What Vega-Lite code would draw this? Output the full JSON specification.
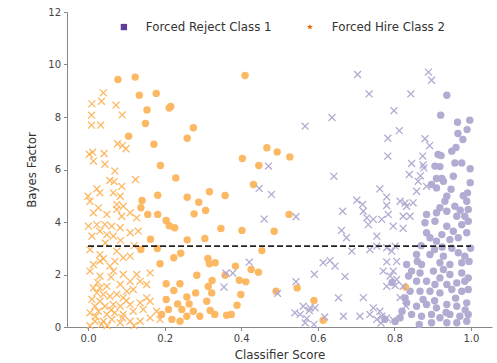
{
"$schema":"https://vega.github.io/schema/vega-lite/v6.json",
"autosize":{"type":"none"},
"padding":{"left":67,"top":12,"right":5,"bottom":36},
"width":425,"height":315,
"config":{"view":{"stroke":null},"font":"DejaVu Sans",
"axis":{"grid":false,"domainColor":"#888","tickColor":"#888","tickSize":3.5,"labelColor":"#444","labelFont":"DejaVu Sans","labelFontSize":10,"titleFont":"DejaVu Sans","titleFontSize":11.8,"titleFontWeight":"normal","titleColor":"#333","labelPadding":3}},
"resolve":{"scale":{"color":"independent","shape":"independent"},"legend":{"color":"independent"}},
"datasets":{
"classes":[{"cls":"Forced Reject Class 1"},{"cls":"Forced Hire Class 2"}],
"pts":[
{"score":0.937,"bf":8.83,"cls":"Forced Reject Class 1","marker":"o"},{"score":0.921,"bf":8.07,"cls":"Forced Reject Class 1","marker":"o"},{"score":0.965,"bf":7.80,"cls":"Forced Reject Class 1","marker":"o"},{"score":0.997,"bf":7.88,"cls":"Forced Reject Class 1","marker":"o"},{"score":0.966,"bf":7.37,"cls":"Forced Reject Class 1","marker":"o"},{"score":0.979,"bf":7.14,"cls":"Forced Reject Class 1","marker":"o"},{"score":0.990,"bf":7.52,"cls":"Forced Reject Class 1","marker":"o"},{"score":0.961,"bf":6.84,"cls":"Forced Reject Class 1","marker":"o"},{"score":0.950,"bf":6.70,"cls":"Forced Reject Class 1","marker":"o"},{"score":0.914,"bf":6.57,"cls":"Forced Reject Class 1","marker":"o"},{"score":0.922,"bf":6.53,"cls":"Forced Reject Class 1","marker":"o"},{"score":0.906,"bf":6.13,"cls":"Forced Reject Class 1","marker":"o"},{"score":0.919,"bf":6.11,"cls":"Forced Reject Class 1","marker":"o"},{"score":0.958,"bf":6.25,"cls":"Forced Reject Class 1","marker":"o"},{"score":0.976,"bf":6.25,"cls":"Forced Reject Class 1","marker":"o"},{"score":0.998,"bf":6.03,"cls":"Forced Reject Class 1","marker":"o"},{"score":0.954,"bf":5.74,"cls":"Forced Reject Class 1","marker":"o"},{"score":0.910,"bf":5.66,"cls":"Forced Reject Class 1","marker":"o"},{"score":0.924,"bf":5.66,"cls":"Forced Reject Class 1","marker":"o"},{"score":0.897,"bf":5.43,"cls":"Forced Reject Class 1","marker":"o"},{"score":0.928,"bf":5.55,"cls":"Forced Reject Class 1","marker":"o"},{"score":0.910,"bf":5.30,"cls":"Forced Reject Class 1","marker":"o"},{"score":0.937,"bf":4.98,"cls":"Forced Reject Class 1","marker":"o"},{"score":0.932,"bf":4.79,"cls":"Forced Reject Class 1","marker":"o"},{"score":0.991,"bf":5.11,"cls":"Forced Reject Class 1","marker":"o"},{"score":0.989,"bf":4.79,"cls":"Forced Reject Class 1","marker":"o"},{"score":0.993,"bf":4.48,"cls":"Forced Reject Class 1","marker":"o"},{"score":0.958,"bf":4.60,"cls":"Forced Reject Class 1","marker":"o"},{"score":0.919,"bf":4.54,"cls":"Forced Reject Class 1","marker":"o"},{"score":0.884,"bf":4.29,"cls":"Forced Reject Class 1","marker":"o"},{"score":0.910,"bf":4.35,"cls":"Forced Reject Class 1","marker":"o"},{"score":0.937,"bf":4.41,"cls":"Forced Reject Class 1","marker":"o"},{"score":0.963,"bf":4.22,"cls":"Forced Reject Class 1","marker":"o"},{"score":0.984,"bf":4.22,"cls":"Forced Reject Class 1","marker":"o"},{"score":0.880,"bf":3.97,"cls":"Forced Reject Class 1","marker":"o"},{"score":0.906,"bf":4.03,"cls":"Forced Reject Class 1","marker":"o"},{"score":0.937,"bf":3.84,"cls":"Forced Reject Class 1","marker":"o"},{"score":0.884,"bf":3.59,"cls":"Forced Reject Class 1","marker":"o"},{"score":0.924,"bf":3.52,"cls":"Forced Reject Class 1","marker":"o"},{"score":0.954,"bf":3.65,"cls":"Forced Reject Class 1","marker":"o"},{"score":0.976,"bf":3.90,"cls":"Forced Reject Class 1","marker":"o"},{"score":0.993,"bf":4.03,"cls":"Forced Reject Class 1","marker":"o"},{"score":0.989,"bf":3.59,"cls":"Forced Reject Class 1","marker":"o"},{"score":0.967,"bf":3.40,"cls":"Forced Reject Class 1","marker":"o"},{"score":0.945,"bf":3.33,"cls":"Forced Reject Class 1","marker":"o"},{"score":0.910,"bf":3.27,"cls":"Forced Reject Class 1","marker":"o"},{"score":0.893,"bf":3.40,"cls":"Forced Reject Class 1","marker":"o"},{"score":0.858,"bf":2.76,"cls":"Forced Reject Class 1","marker":"o"},{"score":0.893,"bf":2.76,"cls":"Forced Reject Class 1","marker":"o"},{"score":0.928,"bf":2.70,"cls":"Forced Reject Class 1","marker":"o"},{"score":0.967,"bf":2.83,"cls":"Forced Reject Class 1","marker":"o"},{"score":0.984,"bf":2.70,"cls":"Forced Reject Class 1","marker":"o"},{"score":0.919,"bf":2.45,"cls":"Forced Reject Class 1","marker":"o"},{"score":0.945,"bf":2.38,"cls":"Forced Reject Class 1","marker":"o"},{"score":0.976,"bf":2.45,"cls":"Forced Reject Class 1","marker":"o"},{"score":0.871,"bf":2.38,"cls":"Forced Reject Class 1","marker":"o"},{"score":0.845,"bf":2.13,"cls":"Forced Reject Class 1","marker":"o"},{"score":0.867,"bf":2.06,"cls":"Forced Reject Class 1","marker":"o"},{"score":0.902,"bf":2.13,"cls":"Forced Reject Class 1","marker":"o"},{"score":0.928,"bf":2.19,"cls":"Forced Reject Class 1","marker":"o"},{"score":0.945,"bf":2.00,"cls":"Forced Reject Class 1","marker":"o"},{"score":0.976,"bf":2.06,"cls":"Forced Reject Class 1","marker":"o"},{"score":0.993,"bf":1.87,"cls":"Forced Reject Class 1","marker":"o"},{"score":0.832,"bf":2.38,"cls":"Forced Reject Class 1","marker":"o"},{"score":0.837,"bf":1.94,"cls":"Forced Reject Class 1","marker":"o"},{"score":0.858,"bf":1.74,"cls":"Forced Reject Class 1","marker":"o"},{"score":0.884,"bf":1.74,"cls":"Forced Reject Class 1","marker":"o"},{"score":0.906,"bf":1.62,"cls":"Forced Reject Class 1","marker":"o"},{"score":0.919,"bf":1.87,"cls":"Forced Reject Class 1","marker":"o"},{"score":0.937,"bf":1.62,"cls":"Forced Reject Class 1","marker":"o"},{"score":0.963,"bf":1.68,"cls":"Forced Reject Class 1","marker":"o"},{"score":0.984,"bf":1.74,"cls":"Forced Reject Class 1","marker":"o"},{"score":0.841,"bf":1.36,"cls":"Forced Reject Class 1","marker":"o"},{"score":0.867,"bf":1.36,"cls":"Forced Reject Class 1","marker":"o"},{"score":0.893,"bf":1.36,"cls":"Forced Reject Class 1","marker":"o"},{"score":0.919,"bf":1.30,"cls":"Forced Reject Class 1","marker":"o"},{"score":0.950,"bf":1.43,"cls":"Forced Reject Class 1","marker":"o"},{"score":0.976,"bf":1.36,"cls":"Forced Reject Class 1","marker":"o"},{"score":0.993,"bf":1.43,"cls":"Forced Reject Class 1","marker":"o"},{"score":0.794,"bf":1.70,"cls":"Forced Reject Class 1","marker":"o"},{"score":0.828,"bf":1.11,"cls":"Forced Reject Class 1","marker":"o"},{"score":0.832,"bf":0.92,"cls":"Forced Reject Class 1","marker":"o"},{"score":0.858,"bf":0.79,"cls":"Forced Reject Class 1","marker":"o"},{"score":0.884,"bf":0.86,"cls":"Forced Reject Class 1","marker":"o"},{"score":0.910,"bf":0.73,"cls":"Forced Reject Class 1","marker":"o"},{"score":0.937,"bf":0.86,"cls":"Forced Reject Class 1","marker":"o"},{"score":0.963,"bf":0.79,"cls":"Forced Reject Class 1","marker":"o"},{"score":0.989,"bf":0.92,"cls":"Forced Reject Class 1","marker":"o"},{"score":0.845,"bf":0.48,"cls":"Forced Reject Class 1","marker":"o"},{"score":0.871,"bf":0.41,"cls":"Forced Reject Class 1","marker":"o"},{"score":0.897,"bf":0.48,"cls":"Forced Reject Class 1","marker":"o"},{"score":0.919,"bf":0.35,"cls":"Forced Reject Class 1","marker":"o"},{"score":0.945,"bf":0.48,"cls":"Forced Reject Class 1","marker":"o"},{"score":0.971,"bf":0.41,"cls":"Forced Reject Class 1","marker":"o"},{"score":0.993,"bf":0.48,"cls":"Forced Reject Class 1","marker":"o"},{"score":0.897,"bf":0.16,"cls":"Forced Reject Class 1","marker":"o"},{"score":0.937,"bf":0.16,"cls":"Forced Reject Class 1","marker":"o"},{"score":0.963,"bf":0.16,"cls":"Forced Reject Class 1","marker":"o"},{"score":0.989,"bf":0.22,"cls":"Forced Reject Class 1","marker":"o"},{"score":0.815,"bf":0.35,"cls":"Forced Reject Class 1","marker":"o"},{"score":0.775,"bf":0.29,"cls":"Forced Reject Class 1","marker":"o"},{"score":0.802,"bf":0.21,"cls":"Forced Reject Class 1","marker":"o"},{"score":0.998,"bf":5.50,"cls":"Forced Reject Class 1","marker":"o"},{"score":0.999,"bf":3.00,"cls":"Forced Reject Class 1","marker":"o"},{"score":0.870,"bf":3.10,"cls":"Forced Reject Class 1","marker":"o"},{"score":0.950,"bf":3.00,"cls":"Forced Reject Class 1","marker":"o"},{"score":0.875,"bf":1.05,"cls":"Forced Reject Class 1","marker":"o"},{"score":0.960,"bf":1.10,"cls":"Forced Reject Class 1","marker":"o"},{"score":0.905,"bf":1.00,"cls":"Forced Reject Class 1","marker":"o"},{"score":0.820,"bf":0.60,"cls":"Forced Reject Class 1","marker":"o"},{"score":0.865,"bf":0.10,"cls":"Forced Reject Class 1","marker":"o"},{"score":0.995,"bf":2.50,"cls":"Forced Reject Class 1","marker":"o"},{"score":0.980,"bf":5.00,"cls":"Forced Reject Class 1","marker":"o"},{"score":0.948,"bf":5.25,"cls":"Forced Reject Class 1","marker":"o"},{"score":0.972,"bf":4.45,"cls":"Forced Reject Class 1","marker":"o"},{"score":0.905,"bf":2.95,"cls":"Forced Reject Class 1","marker":"o"},{"score":0.925,"bf":3.05,"cls":"Forced Reject Class 1","marker":"o"},{"score":0.860,"bf":2.50,"cls":"Forced Reject Class 1","marker":"o"},{"score":0.985,"bf":0.65,"cls":"Forced Reject Class 1","marker":"o"},{"score":0.935,"bf":0.55,"cls":"Forced Reject Class 1","marker":"o"},
{"score":0.078,"bf":9.43,"cls":"Forced Hire Class 2","marker":"o"},{"score":0.123,"bf":9.52,"cls":"Forced Hire Class 2","marker":"o"},{"score":0.134,"bf":8.83,"cls":"Forced Hire Class 2","marker":"o"},{"score":0.178,"bf":8.90,"cls":"Forced Hire Class 2","marker":"o"},{"score":0.154,"bf":8.27,"cls":"Forced Hire Class 2","marker":"o"},{"score":0.216,"bf":8.40,"cls":"Forced Hire Class 2","marker":"o"},{"score":0.212,"bf":8.34,"cls":"Forced Hire Class 2","marker":"o"},{"score":0.150,"bf":7.75,"cls":"Forced Hire Class 2","marker":"o"},{"score":0.275,"bf":7.59,"cls":"Forced Hire Class 2","marker":"o"},{"score":0.259,"bf":7.19,"cls":"Forced Hire Class 2","marker":"o"},{"score":0.106,"bf":7.27,"cls":"Forced Hire Class 2","marker":"o"},{"score":0.172,"bf":6.96,"cls":"Forced Hire Class 2","marker":"o"},{"score":0.189,"bf":6.15,"cls":"Forced Hire Class 2","marker":"o"},{"score":0.229,"bf":5.68,"cls":"Forced Hire Class 2","marker":"o"},{"score":0.410,"bf":9.58,"cls":"Forced Hire Class 2","marker":"o"},{"score":0.467,"bf":6.83,"cls":"Forced Hire Class 2","marker":"o"},{"score":0.494,"bf":6.67,"cls":"Forced Hire Class 2","marker":"o"},{"score":0.527,"bf":6.48,"cls":"Forced Hire Class 2","marker":"o"},{"score":0.403,"bf":6.42,"cls":"Forced Hire Class 2","marker":"o"},{"score":0.446,"bf":6.15,"cls":"Forced Hire Class 2","marker":"o"},{"score":0.182,"bf":5.02,"cls":"Forced Hire Class 2","marker":"o"},{"score":0.141,"bf":4.82,"cls":"Forced Hire Class 2","marker":"o"},{"score":0.259,"bf":4.94,"cls":"Forced Hire Class 2","marker":"o"},{"score":0.289,"bf":4.75,"cls":"Forced Hire Class 2","marker":"o"},{"score":0.317,"bf":5.15,"cls":"Forced Hire Class 2","marker":"o"},{"score":0.138,"bf":4.54,"cls":"Forced Hire Class 2","marker":"o"},{"score":0.156,"bf":4.29,"cls":"Forced Hire Class 2","marker":"o"},{"score":0.182,"bf":4.29,"cls":"Forced Hire Class 2","marker":"o"},{"score":0.277,"bf":4.31,"cls":"Forced Hire Class 2","marker":"o"},{"score":0.307,"bf":4.44,"cls":"Forced Hire Class 2","marker":"o"},{"score":0.204,"bf":4.06,"cls":"Forced Hire Class 2","marker":"o"},{"score":0.212,"bf":3.86,"cls":"Forced Hire Class 2","marker":"o"},{"score":0.226,"bf":3.78,"cls":"Forced Hire Class 2","marker":"o"},{"score":0.163,"bf":3.34,"cls":"Forced Hire Class 2","marker":"o"},{"score":0.259,"bf":3.32,"cls":"Forced Hire Class 2","marker":"o"},{"score":0.305,"bf":3.37,"cls":"Forced Hire Class 2","marker":"o"},{"score":0.138,"bf":2.95,"cls":"Forced Hire Class 2","marker":"o"},{"score":0.181,"bf":2.99,"cls":"Forced Hire Class 2","marker":"o"},{"score":0.242,"bf":2.81,"cls":"Forced Hire Class 2","marker":"o"},{"score":0.224,"bf":2.64,"cls":"Forced Hire Class 2","marker":"o"},{"score":0.313,"bf":2.61,"cls":"Forced Hire Class 2","marker":"o"},{"score":0.188,"bf":2.41,"cls":"Forced Hire Class 2","marker":"o"},{"score":0.317,"bf":2.41,"cls":"Forced Hire Class 2","marker":"o"},{"score":0.284,"bf":1.97,"cls":"Forced Hire Class 2","marker":"o"},{"score":0.204,"bf":1.65,"cls":"Forced Hire Class 2","marker":"o"},{"score":0.240,"bf":1.65,"cls":"Forced Hire Class 2","marker":"o"},{"score":0.224,"bf":1.39,"cls":"Forced Hire Class 2","marker":"o"},{"score":0.314,"bf":1.54,"cls":"Forced Hire Class 2","marker":"o"},{"score":0.281,"bf":1.30,"cls":"Forced Hire Class 2","marker":"o"},{"score":0.204,"bf":1.05,"cls":"Forced Hire Class 2","marker":"o"},{"score":0.258,"bf":1.14,"cls":"Forced Hire Class 2","marker":"o"},{"score":0.234,"bf":0.88,"cls":"Forced Hire Class 2","marker":"o"},{"score":0.264,"bf":0.88,"cls":"Forced Hire Class 2","marker":"o"},{"score":0.310,"bf":0.98,"cls":"Forced Hire Class 2","marker":"o"},{"score":0.210,"bf":0.67,"cls":"Forced Hire Class 2","marker":"o"},{"score":0.245,"bf":0.67,"cls":"Forced Hire Class 2","marker":"o"},{"score":0.275,"bf":0.60,"cls":"Forced Hire Class 2","marker":"o"},{"score":0.319,"bf":0.63,"cls":"Forced Hire Class 2","marker":"o"},{"score":0.192,"bf":0.48,"cls":"Forced Hire Class 2","marker":"o"},{"score":0.258,"bf":0.41,"cls":"Forced Hire Class 2","marker":"o"},{"score":0.292,"bf":0.41,"cls":"Forced Hire Class 2","marker":"o"},{"score":0.219,"bf":0.29,"cls":"Forced Hire Class 2","marker":"o"},{"score":0.240,"bf":0.22,"cls":"Forced Hire Class 2","marker":"o"},{"score":0.432,"bf":5.43,"cls":"Forced Hire Class 2","marker":"o"},{"score":0.358,"bf":5.01,"cls":"Forced Hire Class 2","marker":"o"},{"score":0.525,"bf":4.29,"cls":"Forced Hire Class 2","marker":"o"},{"score":0.347,"bf":3.75,"cls":"Forced Hire Class 2","marker":"o"},{"score":0.402,"bf":3.68,"cls":"Forced Hire Class 2","marker":"o"},{"score":0.486,"bf":3.65,"cls":"Forced Hire Class 2","marker":"o"},{"score":0.454,"bf":2.91,"cls":"Forced Hire Class 2","marker":"o"},{"score":0.332,"bf":2.45,"cls":"Forced Hire Class 2","marker":"o"},{"score":0.385,"bf":2.32,"cls":"Forced Hire Class 2","marker":"o"},{"score":0.358,"bf":1.97,"cls":"Forced Hire Class 2","marker":"o"},{"score":0.426,"bf":2.19,"cls":"Forced Hire Class 2","marker":"o"},{"score":0.445,"bf":2.09,"cls":"Forced Hire Class 2","marker":"o"},{"score":0.395,"bf":1.78,"cls":"Forced Hire Class 2","marker":"o"},{"score":0.412,"bf":1.72,"cls":"Forced Hire Class 2","marker":"o"},{"score":0.324,"bf":1.77,"cls":"Forced Hire Class 2","marker":"o"},{"score":0.323,"bf":1.30,"cls":"Forced Hire Class 2","marker":"o"},{"score":0.399,"bf":1.24,"cls":"Forced Hire Class 2","marker":"o"},{"score":0.491,"bf":1.36,"cls":"Forced Hire Class 2","marker":"o"},{"score":0.546,"bf":1.49,"cls":"Forced Hire Class 2","marker":"o"},{"score":0.389,"bf":0.83,"cls":"Forced Hire Class 2","marker":"o"},{"score":0.331,"bf":0.48,"cls":"Forced Hire Class 2","marker":"o"},{"score":0.362,"bf":0.45,"cls":"Forced Hire Class 2","marker":"o"},{"score":0.374,"bf":0.48,"cls":"Forced Hire Class 2","marker":"o"},{"score":0.590,"bf":1.01,"cls":"Forced Hire Class 2","marker":"o"},{"score":0.614,"bf":0.26,"cls":"Forced Hire Class 2","marker":"o"},{"score":0.829,"bf":1.52,"cls":"Forced Hire Class 2","marker":"o"},
{"score":0.040,"bf":8.92,"cls":"Forced Hire Class 2","marker":"x"},{"score":0.035,"bf":8.60,"cls":"Forced Hire Class 2","marker":"x"},{"score":0.010,"bf":8.50,"cls":"Forced Hire Class 2","marker":"x"},{"score":0.073,"bf":8.45,"cls":"Forced Hire Class 2","marker":"x"},{"score":0.089,"bf":8.08,"cls":"Forced Hire Class 2","marker":"x"},{"score":0.009,"bf":8.07,"cls":"Forced Hire Class 2","marker":"x"},{"score":0.009,"bf":7.69,"cls":"Forced Hire Class 2","marker":"x"},{"score":0.033,"bf":7.69,"cls":"Forced Hire Class 2","marker":"x"},{"score":0.077,"bf":6.98,"cls":"Forced Hire Class 2","marker":"x"},{"score":0.090,"bf":6.91,"cls":"Forced Hire Class 2","marker":"x"},{"score":0.099,"bf":6.79,"cls":"Forced Hire Class 2","marker":"x"},{"score":0.003,"bf":6.58,"cls":"Forced Hire Class 2","marker":"x"},{"score":0.012,"bf":6.66,"cls":"Forced Hire Class 2","marker":"x"},{"score":0.042,"bf":6.61,"cls":"Forced Hire Class 2","marker":"x"},{"score":0.014,"bf":6.32,"cls":"Forced Hire Class 2","marker":"x"},{"score":0.044,"bf":6.20,"cls":"Forced Hire Class 2","marker":"x"},{"score":0.070,"bf":5.94,"cls":"Forced Hire Class 2","marker":"x"},{"score":0.124,"bf":5.62,"cls":"Forced Hire Class 2","marker":"x"},{"score":0.057,"bf":5.58,"cls":"Forced Hire Class 2","marker":"x"},{"score":0.068,"bf":5.54,"cls":"Forced Hire Class 2","marker":"x"},{"score":0.088,"bf":5.36,"cls":"Forced Hire Class 2","marker":"x"},{"score":0.023,"bf":5.26,"cls":"Forced Hire Class 2","marker":"x"},{"score":0.031,"bf":5.11,"cls":"Forced Hire Class 2","marker":"x"},{"score":0.000,"bf":4.98,"cls":"Forced Hire Class 2","marker":"x"},{"score":0.066,"bf":5.11,"cls":"Forced Hire Class 2","marker":"x"},{"score":0.084,"bf":4.98,"cls":"Forced Hire Class 2","marker":"x"},{"score":0.005,"bf":4.79,"cls":"Forced Hire Class 2","marker":"x"},{"score":0.027,"bf":4.54,"cls":"Forced Hire Class 2","marker":"x"},{"score":0.014,"bf":4.35,"cls":"Forced Hire Class 2","marker":"x"},{"score":0.075,"bf":4.67,"cls":"Forced Hire Class 2","marker":"x"},{"score":0.092,"bf":4.60,"cls":"Forced Hire Class 2","marker":"x"},{"score":0.075,"bf":4.48,"cls":"Forced Hire Class 2","marker":"x"},{"score":0.110,"bf":4.35,"cls":"Forced Hire Class 2","marker":"x"},{"score":0.127,"bf":4.16,"cls":"Forced Hire Class 2","marker":"x"},{"score":0.088,"bf":4.22,"cls":"Forced Hire Class 2","marker":"x"},{"score":0.049,"bf":4.29,"cls":"Forced Hire Class 2","marker":"x"},{"score":0.001,"bf":3.84,"cls":"Forced Hire Class 2","marker":"x"},{"score":0.023,"bf":3.90,"cls":"Forced Hire Class 2","marker":"x"},{"score":0.044,"bf":3.90,"cls":"Forced Hire Class 2","marker":"x"},{"score":0.062,"bf":3.84,"cls":"Forced Hire Class 2","marker":"x"},{"score":0.084,"bf":3.78,"cls":"Forced Hire Class 2","marker":"x"},{"score":0.031,"bf":3.65,"cls":"Forced Hire Class 2","marker":"x"},{"score":0.049,"bf":3.52,"cls":"Forced Hire Class 2","marker":"x"},{"score":0.010,"bf":3.46,"cls":"Forced Hire Class 2","marker":"x"},{"score":0.066,"bf":3.46,"cls":"Forced Hire Class 2","marker":"x"},{"score":0.110,"bf":3.59,"cls":"Forced Hire Class 2","marker":"x"},{"score":0.131,"bf":3.65,"cls":"Forced Hire Class 2","marker":"x"},{"score":0.005,"bf":2.95,"cls":"Forced Hire Class 2","marker":"x"},{"score":0.031,"bf":2.76,"cls":"Forced Hire Class 2","marker":"x"},{"score":0.075,"bf":2.89,"cls":"Forced Hire Class 2","marker":"x"},{"score":0.092,"bf":2.64,"cls":"Forced Hire Class 2","marker":"x"},{"score":0.031,"bf":2.51,"cls":"Forced Hire Class 2","marker":"x"},{"score":0.014,"bf":2.38,"cls":"Forced Hire Class 2","marker":"x"},{"score":0.057,"bf":2.32,"cls":"Forced Hire Class 2","marker":"x"},{"score":0.110,"bf":2.70,"cls":"Forced Hire Class 2","marker":"x"},{"score":0.005,"bf":2.13,"cls":"Forced Hire Class 2","marker":"x"},{"score":0.066,"bf":2.13,"cls":"Forced Hire Class 2","marker":"x"},{"score":0.092,"bf":2.00,"cls":"Forced Hire Class 2","marker":"x"},{"score":0.127,"bf":2.00,"cls":"Forced Hire Class 2","marker":"x"},{"score":0.162,"bf":2.06,"cls":"Forced Hire Class 2","marker":"x"},{"score":0.031,"bf":1.94,"cls":"Forced Hire Class 2","marker":"x"},{"score":0.136,"bf":1.74,"cls":"Forced Hire Class 2","marker":"x"},{"score":0.110,"bf":1.74,"cls":"Forced Hire Class 2","marker":"x"},{"score":0.084,"bf":1.62,"cls":"Forced Hire Class 2","marker":"x"},{"score":0.153,"bf":1.62,"cls":"Forced Hire Class 2","marker":"x"},{"score":0.014,"bf":1.49,"cls":"Forced Hire Class 2","marker":"x"},{"score":0.031,"bf":1.49,"cls":"Forced Hire Class 2","marker":"x"},{"score":0.049,"bf":1.55,"cls":"Forced Hire Class 2","marker":"x"},{"score":0.023,"bf":1.30,"cls":"Forced Hire Class 2","marker":"x"},{"score":0.040,"bf":1.24,"cls":"Forced Hire Class 2","marker":"x"},{"score":0.057,"bf":1.17,"cls":"Forced Hire Class 2","marker":"x"},{"score":0.010,"bf":1.05,"cls":"Forced Hire Class 2","marker":"x"},{"score":0.031,"bf":0.98,"cls":"Forced Hire Class 2","marker":"x"},{"score":0.075,"bf":1.24,"cls":"Forced Hire Class 2","marker":"x"},{"score":0.101,"bf":1.36,"cls":"Forced Hire Class 2","marker":"x"},{"score":0.118,"bf":1.43,"cls":"Forced Hire Class 2","marker":"x"},{"score":0.092,"bf":1.11,"cls":"Forced Hire Class 2","marker":"x"},{"score":0.153,"bf":1.11,"cls":"Forced Hire Class 2","marker":"x"},{"score":0.136,"bf":0.92,"cls":"Forced Hire Class 2","marker":"x"},{"score":0.162,"bf":0.98,"cls":"Forced Hire Class 2","marker":"x"},{"score":0.018,"bf":0.79,"cls":"Forced Hire Class 2","marker":"x"},{"score":0.044,"bf":0.79,"cls":"Forced Hire Class 2","marker":"x"},{"score":0.066,"bf":0.86,"cls":"Forced Hire Class 2","marker":"x"},{"score":0.084,"bf":0.79,"cls":"Forced Hire Class 2","marker":"x"},{"score":0.110,"bf":0.86,"cls":"Forced Hire Class 2","marker":"x"},{"score":0.005,"bf":0.54,"cls":"Forced Hire Class 2","marker":"x"},{"score":0.027,"bf":0.60,"cls":"Forced Hire Class 2","marker":"x"},{"score":0.049,"bf":0.48,"cls":"Forced Hire Class 2","marker":"x"},{"score":0.070,"bf":0.54,"cls":"Forced Hire Class 2","marker":"x"},{"score":0.092,"bf":0.48,"cls":"Forced Hire Class 2","marker":"x"},{"score":0.118,"bf":0.60,"cls":"Forced Hire Class 2","marker":"x"},{"score":0.144,"bf":0.67,"cls":"Forced Hire Class 2","marker":"x"},{"score":0.179,"bf":0.60,"cls":"Forced Hire Class 2","marker":"x"},{"score":0.018,"bf":0.22,"cls":"Forced Hire Class 2","marker":"x"},{"score":0.040,"bf":0.22,"cls":"Forced Hire Class 2","marker":"x"},{"score":0.062,"bf":0.29,"cls":"Forced Hire Class 2","marker":"x"},{"score":0.084,"bf":0.16,"cls":"Forced Hire Class 2","marker":"x"},{"score":0.110,"bf":0.22,"cls":"Forced Hire Class 2","marker":"x"},{"score":0.136,"bf":0.22,"cls":"Forced Hire Class 2","marker":"x"},{"score":0.188,"bf":0.29,"cls":"Forced Hire Class 2","marker":"x"},{"score":0.162,"bf":0.35,"cls":"Forced Hire Class 2","marker":"x"},{"score":0.005,"bf":0.05,"cls":"Forced Hire Class 2","marker":"x"},{"score":0.050,"bf":0.05,"cls":"Forced Hire Class 2","marker":"x"},{"score":0.120,"bf":0.05,"cls":"Forced Hire Class 2","marker":"x"},{"score":0.025,"bf":1.70,"cls":"Forced Hire Class 2","marker":"x"},{"score":0.060,"bf":1.90,"cls":"Forced Hire Class 2","marker":"x"},{"score":0.040,"bf":2.60,"cls":"Forced Hire Class 2","marker":"x"},{"score":0.070,"bf":2.50,"cls":"Forced Hire Class 2","marker":"x"},{"score":0.020,"bf":0.40,"cls":"Forced Hire Class 2","marker":"x"},{"score":0.060,"bf":0.65,"cls":"Forced Hire Class 2","marker":"x"},{"score":0.090,"bf":0.35,"cls":"Forced Hire Class 2","marker":"x"},{"score":0.035,"bf":0.10,"cls":"Forced Hire Class 2","marker":"x"},{"score":0.100,"bf":1.00,"cls":"Forced Hire Class 2","marker":"x"},{"score":0.045,"bf":3.20,"cls":"Forced Hire Class 2","marker":"x"},{"score":0.120,"bf":3.10,"cls":"Forced Hire Class 2","marker":"x"},{"score":0.085,"bf":3.30,"cls":"Forced Hire Class 2","marker":"x"},
{"score":0.704,"bf":9.62,"cls":"Forced Reject Class 1","marker":"x"},{"score":0.734,"bf":8.88,"cls":"Forced Reject Class 1","marker":"x"},{"score":0.843,"bf":8.88,"cls":"Forced Reject Class 1","marker":"x"},{"score":0.889,"bf":9.71,"cls":"Forced Reject Class 1","marker":"x"},{"score":0.897,"bf":9.40,"cls":"Forced Reject Class 1","marker":"x"},{"score":0.637,"bf":7.98,"cls":"Forced Reject Class 1","marker":"x"},{"score":0.567,"bf":7.65,"cls":"Forced Reject Class 1","marker":"x"},{"score":0.799,"bf":8.24,"cls":"Forced Reject Class 1","marker":"x"},{"score":0.813,"bf":7.48,"cls":"Forced Reject Class 1","marker":"x"},{"score":0.783,"bf":7.19,"cls":"Forced Reject Class 1","marker":"x"},{"score":0.783,"bf":6.51,"cls":"Forced Reject Class 1","marker":"x"},{"score":0.880,"bf":7.17,"cls":"Forced Reject Class 1","marker":"x"},{"score":0.892,"bf":6.91,"cls":"Forced Reject Class 1","marker":"x"},{"score":0.874,"bf":6.51,"cls":"Forced Reject Class 1","marker":"x"},{"score":0.845,"bf":6.23,"cls":"Forced Reject Class 1","marker":"x"},{"score":0.875,"bf":6.17,"cls":"Forced Reject Class 1","marker":"x"},{"score":0.839,"bf":5.81,"cls":"Forced Reject Class 1","marker":"x"},{"score":0.868,"bf":5.76,"cls":"Forced Reject Class 1","marker":"x"},{"score":0.877,"bf":6.06,"cls":"Forced Reject Class 1","marker":"x"},{"score":0.642,"bf":5.74,"cls":"Forced Reject Class 1","marker":"x"},{"score":0.471,"bf":6.13,"cls":"Forced Reject Class 1","marker":"x"},{"score":0.762,"bf":5.26,"cls":"Forced Reject Class 1","marker":"x"},{"score":0.447,"bf":5.28,"cls":"Forced Reject Class 1","marker":"x"},{"score":0.479,"bf":5.05,"cls":"Forced Reject Class 1","marker":"x"},{"score":0.460,"bf":4.11,"cls":"Forced Reject Class 1","marker":"x"},{"score":0.543,"bf":4.20,"cls":"Forced Reject Class 1","marker":"x"},{"score":0.662,"bf":3.68,"cls":"Forced Reject Class 1","marker":"x"},{"score":0.421,"bf":2.47,"cls":"Forced Reject Class 1","marker":"x"},{"score":0.360,"bf":2.05,"cls":"Forced Reject Class 1","marker":"x"},{"score":0.378,"bf":2.05,"cls":"Forced Reject Class 1","marker":"x"},{"score":0.355,"bf":1.52,"cls":"Forced Reject Class 1","marker":"x"},{"score":0.495,"bf":1.28,"cls":"Forced Reject Class 1","marker":"x"},{"score":0.543,"bf":1.73,"cls":"Forced Reject Class 1","marker":"x"},{"score":0.591,"bf":2.01,"cls":"Forced Reject Class 1","marker":"x"},{"score":0.614,"bf":2.45,"cls":"Forced Reject Class 1","marker":"x"},{"score":0.632,"bf":2.53,"cls":"Forced Reject Class 1","marker":"x"},{"score":0.645,"bf":2.32,"cls":"Forced Reject Class 1","marker":"x"},{"score":0.654,"bf":1.11,"cls":"Forced Reject Class 1","marker":"x"},{"score":0.562,"bf":0.79,"cls":"Forced Reject Class 1","marker":"x"},{"score":0.578,"bf":0.63,"cls":"Forced Reject Class 1","marker":"x"},{"score":0.554,"bf":0.48,"cls":"Forced Reject Class 1","marker":"x"},{"score":0.571,"bf":0.32,"cls":"Forced Reject Class 1","marker":"x"},{"score":0.618,"bf":0.38,"cls":"Forced Reject Class 1","marker":"x"},{"score":0.667,"bf":0.41,"cls":"Forced Reject Class 1","marker":"x"},{"score":0.580,"bf":0.73,"cls":"Forced Reject Class 1","marker":"x"},{"score":0.593,"bf":0.73,"cls":"Forced Reject Class 1","marker":"x"},{"score":0.567,"bf":0.16,"cls":"Forced Reject Class 1","marker":"x"},{"score":0.665,"bf":4.41,"cls":"Forced Reject Class 1","marker":"x"},{"score":0.675,"bf":3.40,"cls":"Forced Reject Class 1","marker":"x"},{"score":0.689,"bf":2.89,"cls":"Forced Reject Class 1","marker":"x"},{"score":0.702,"bf":4.83,"cls":"Forced Reject Class 1","marker":"x"},{"score":0.717,"bf":4.67,"cls":"Forced Reject Class 1","marker":"x"},{"score":0.719,"bf":4.41,"cls":"Forced Reject Class 1","marker":"x"},{"score":0.728,"bf":4.16,"cls":"Forced Reject Class 1","marker":"x"},{"score":0.732,"bf":3.90,"cls":"Forced Reject Class 1","marker":"x"},{"score":0.780,"bf":4.95,"cls":"Forced Reject Class 1","marker":"x"},{"score":0.780,"bf":4.63,"cls":"Forced Reject Class 1","marker":"x"},{"score":0.815,"bf":4.79,"cls":"Forced Reject Class 1","marker":"x"},{"score":0.828,"bf":4.72,"cls":"Forced Reject Class 1","marker":"x"},{"score":0.849,"bf":4.73,"cls":"Forced Reject Class 1","marker":"x"},{"score":0.767,"bf":4.10,"cls":"Forced Reject Class 1","marker":"x"},{"score":0.784,"bf":4.29,"cls":"Forced Reject Class 1","marker":"x"},{"score":0.823,"bf":4.22,"cls":"Forced Reject Class 1","marker":"x"},{"score":0.841,"bf":4.22,"cls":"Forced Reject Class 1","marker":"x"},{"score":0.745,"bf":4.10,"cls":"Forced Reject Class 1","marker":"x"},{"score":0.797,"bf":3.84,"cls":"Forced Reject Class 1","marker":"x"},{"score":0.823,"bf":3.76,"cls":"Forced Reject Class 1","marker":"x"},{"score":0.754,"bf":3.46,"cls":"Forced Reject Class 1","marker":"x"},{"score":0.736,"bf":2.95,"cls":"Forced Reject Class 1","marker":"x"},{"score":0.754,"bf":3.08,"cls":"Forced Reject Class 1","marker":"x"},{"score":0.780,"bf":3.02,"cls":"Forced Reject Class 1","marker":"x"},{"score":0.802,"bf":3.08,"cls":"Forced Reject Class 1","marker":"x"},{"score":0.793,"bf":2.89,"cls":"Forced Reject Class 1","marker":"x"},{"score":0.780,"bf":2.48,"cls":"Forced Reject Class 1","marker":"x"},{"score":0.806,"bf":2.50,"cls":"Forced Reject Class 1","marker":"x"},{"score":0.771,"bf":2.13,"cls":"Forced Reject Class 1","marker":"x"},{"score":0.797,"bf":2.13,"cls":"Forced Reject Class 1","marker":"x"},{"score":0.789,"bf":1.94,"cls":"Forced Reject Class 1","marker":"x"},{"score":0.806,"bf":1.81,"cls":"Forced Reject Class 1","marker":"x"},{"score":0.671,"bf":1.92,"cls":"Forced Reject Class 1","marker":"x"},{"score":0.780,"bf":1.55,"cls":"Forced Reject Class 1","marker":"x"},{"score":0.802,"bf":1.58,"cls":"Forced Reject Class 1","marker":"x"},{"score":0.823,"bf":1.55,"cls":"Forced Reject Class 1","marker":"x"},{"score":0.719,"bf":1.12,"cls":"Forced Reject Class 1","marker":"x"},{"score":0.745,"bf":0.73,"cls":"Forced Reject Class 1","marker":"x"},{"score":0.762,"bf":0.60,"cls":"Forced Reject Class 1","marker":"x"},{"score":0.736,"bf":0.48,"cls":"Forced Reject Class 1","marker":"x"},{"score":0.780,"bf":0.35,"cls":"Forced Reject Class 1","marker":"x"},{"score":0.710,"bf":0.41,"cls":"Forced Reject Class 1","marker":"x"},{"score":0.754,"bf":0.29,"cls":"Forced Reject Class 1","marker":"x"},{"score":0.797,"bf":0.27,"cls":"Forced Reject Class 1","marker":"x"},{"score":0.767,"bf":0.41,"cls":"Forced Reject Class 1","marker":"x"},{"score":0.862,"bf":5.55,"cls":"Forced Reject Class 1","marker":"x"},{"score":0.858,"bf":5.17,"cls":"Forced Reject Class 1","marker":"x"},{"score":0.884,"bf":5.36,"cls":"Forced Reject Class 1","marker":"x"},{"score":0.832,"bf":4.60,"cls":"Forced Reject Class 1","marker":"x"},{"score":0.540,"bf":0.54,"cls":"Forced Reject Class 1","marker":"x"},{"score":0.815,"bf":1.12,"cls":"Forced Reject Class 1","marker":"x"},{"score":0.830,"bf":0.80,"cls":"Forced Reject Class 1","marker":"x"},{"score":0.765,"bf":0.15,"cls":"Forced Reject Class 1","marker":"x"},{"score":0.590,"bf":0.10,"cls":"Forced Reject Class 1","marker":"x"}
],
"threshold":[{"from":0,"to":1,"bf":3.08}]
},
"layer":[
{"data":{"name":"pts"},"transform":[{"filter":"datum.marker === 'o'"}],
"mark":{"type":"point","shape":"circle","filled":true,"size":55,"opacity":1,"strokeWidth":0},
"encoding":{
"x":{"field":"score","type":"quantitative","scale":{"domain":[-0.055,1.055],"nice":false,"zero":false},"axis":{"title":"Classifier Score","values":[0,0.2,0.4,0.6,0.8,1.0],"format":".1f","titlePadding":6}},
"y":{"field":"bf","type":"quantitative","scale":{"domain":[0,12],"nice":false},"axis":{"title":"Bayes Factor","values":[0,2,4,6,8,10,12],"titlePadding":10}},
"color":{"field":"cls","type":"nominal","scale":{"domain":["Forced Reject Class 1","Forced Hire Class 2"],"range":["#b2abd2","#fdb863"]},"legend":null}
}},
{"data":{"name":"pts"},"transform":[{"filter":"datum.marker === 'x'"}],
"mark":{"type":"point","shape":"M-1,-1L1,1M1,-1L-1,1","filled":false,"size":48,"opacity":1,"strokeWidth":1.3},
"encoding":{
"x":{"field":"score","type":"quantitative"},
"y":{"field":"bf","type":"quantitative"},
"stroke":{"field":"cls","type":"nominal","scale":{"domain":["Forced Reject Class 1","Forced Hire Class 2"],"range":["#b2abd2","#fdb863"]},"legend":null}
}},
{"data":{"name":"threshold"},
"mark":{"type":"rule","color":"#222","strokeWidth":1.6,"strokeDash":[6,3]},
"encoding":{"x":{"field":"from","type":"quantitative"},"x2":{"field":"to"},"y":{"field":"bf","type":"quantitative"}}},
{"data":{"name":"classes"},
"mark":{"type":"point","filled":true,"opacity":0,"size":40},
"encoding":{
"color":{"field":"cls","type":"nominal","scale":{"domain":["Forced Reject Class 1","Forced Hire Class 2"],"range":["#5e3c99","#e66101"]},
"legend":{"title":null,"orient":"none","legendX":51,"legendY":9,"direction":"horizontal","symbolSize":40,"labelOffset":16,"columnPadding":32,"labelFont":"DejaVu Sans","labelFontSize":11.8,"labelColor":"#333","symbolOpacity":1,"symbolStrokeWidth":0}},
"shape":{"field":"cls","type":"nominal","scale":{"domain":["Forced Reject Class 1","Forced Hire Class 2"],"range":["square","M0,-1L0.235,-0.324L0.951,-0.309L0.38,0.124L0.588,0.809L0,0.4L-0.588,0.809L-0.38,0.124L-0.951,-0.309L-0.235,-0.324Z"]},
"legend":{"title":null,"orient":"none","legendX":51,"legendY":9,"direction":"horizontal","symbolSize":40,"labelOffset":16,"columnPadding":32,"labelFont":"DejaVu Sans","labelFontSize":11.8,"labelColor":"#333","symbolOpacity":1,"symbolStrokeWidth":0}}
}}
]
}
